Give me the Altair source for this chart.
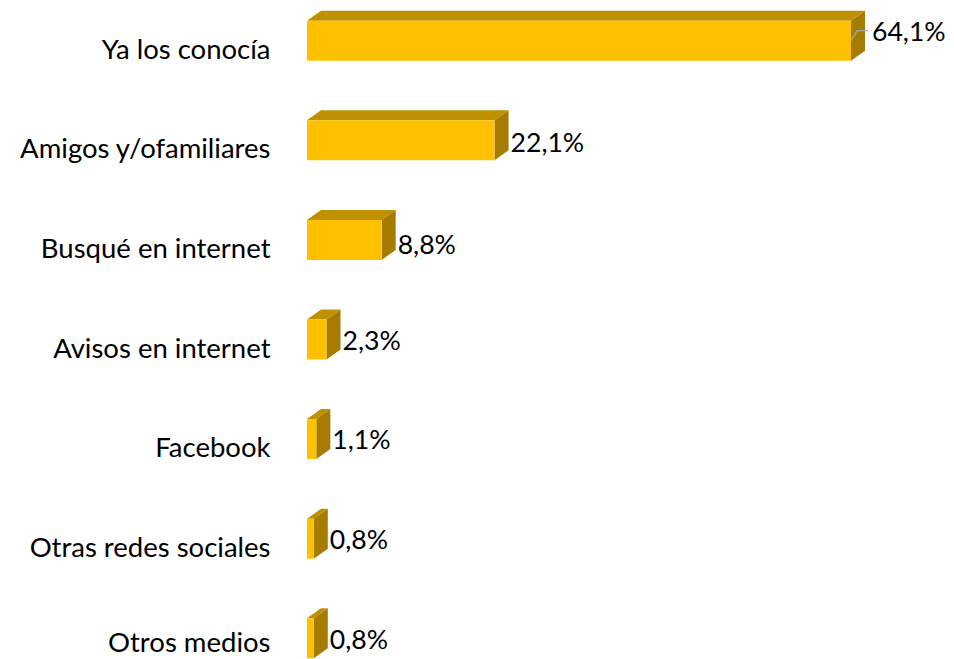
import altair as alt
import pandas as pd

categories = ["Ya los conocía", "Amigos y/ofamiliares", "Busqué en internet", "Avisos en internet",
              "Facebook", "Otras redes sociales", "Otros medios"]
values = [64.1, 22.1, 8.8, 2.3, 1.1, 0.8, 0.8]
value_labels = ["64,1%", "22,1%", "8,8%", "2,3%", "1,1%", "0,8%", "0,8%"]

W, H = 938, 652
PX_PER_VALUE = 8.487
PX_PER_ROW = 99.6
X_DOMAIN = [-299 / PX_PER_VALUE, (W - 299) / PX_PER_VALUE]
Y_DOMAIN = [-32.7 / PX_PER_ROW, (H - 32.7) / PX_PER_ROW]
HALF = 20 / PX_PER_ROW
DX = 14 / PX_PER_VALUE
DY = 10 / PX_PER_ROW
FONT = "Lato"
FS_CAT = 27.5
FS_VAL = 26.6
label_shift_px = [(21, -8), (16, 4), (16, 6), (16, 2), (16, 2), (16, 2), (16, 3)]
category_shift_px = [10, 10, 10, 10, 10, 10, 6]

x = alt.X("x:Q", scale=alt.Scale(domain=X_DOMAIN, nice=False, zero=False), axis=None)
y = alt.Y("y:Q", scale=alt.Scale(domain=Y_DOMAIN, reverse=True, nice=False, zero=False), axis=None)

front, top, side, cats, labs = [], [], [], [], []
for i, (c, v, l) in enumerate(zip(categories, values, value_labels)):
    front.append({"x": 0, "x2": v, "y": i - HALF, "y2": i + HALF})
    top += [{"r": i, "y": i - HALF, "x": 0, "x2": v},
            {"r": i, "y": i - HALF - DY, "x": DX, "x2": v + DX}]
    side += [{"r": i, "x": v, "y": i - HALF, "y2": i + HALF},
             {"r": i, "x": v + DX, "y": i - HALF - DY, "y2": i + HALF - DY}]
    cats.append({"x": -36.5 / PX_PER_VALUE, "y": i + category_shift_px[i] / PX_PER_ROW, "t": c})
    sx, sy = label_shift_px[i]
    labs.append({"x": v + sx / PX_PER_VALUE, "y": i + sy / PX_PER_ROW, "t": l})

lf = alt.Chart(pd.DataFrame(front)).mark_rect(color="#FFC000").encode(x=x, x2="x2:Q", y=y, y2="y2:Q")
lt = alt.Chart(pd.DataFrame(top)).mark_area(color="#BF9000", orient="horizontal").encode(
    y=y, x=x, x2="x2:Q", detail="r:N")
ls = alt.Chart(pd.DataFrame(side)).mark_area(color="#A67C00", orient="vertical").encode(
    x=x, y=y, y2="y2:Q", detail="r:N")

leader = pd.DataFrame([
    {"o": 0, "x": values[0], "y": 0.0},
    {"o": 1, "x": values[0] + 6 / PX_PER_VALUE, "y": -10 / PX_PER_ROW},
    {"o": 2, "x": values[0] + 17 / PX_PER_VALUE, "y": -10 / PX_PER_ROW},
])
ll = alt.Chart(leader).mark_line(color="#A6A6A6", strokeWidth=1.3).encode(x=x, y=y, order="o:O")

tc = alt.Chart(pd.DataFrame(cats)).mark_text(align="right", baseline="middle", font=FONT, fontSize=FS_CAT,
                                             color="#000000").encode(x=x, y=y, text="t:N")
tl = alt.Chart(pd.DataFrame(labs)).mark_text(align="left", baseline="middle", font=FONT, fontSize=FS_VAL,
                                             color="#000000").encode(x=x, y=y, text="t:N")

chart = alt.layer(lt, ls, lf, ll, tc, tl).properties(
    width=W, height=H, padding=0, autosize=alt.AutoSizeParams(type="none"), background="#FFFFFF"
).configure_view(stroke=None)
chart.save("out.html", embed_options={"renderer": "svg", "actions": False})
